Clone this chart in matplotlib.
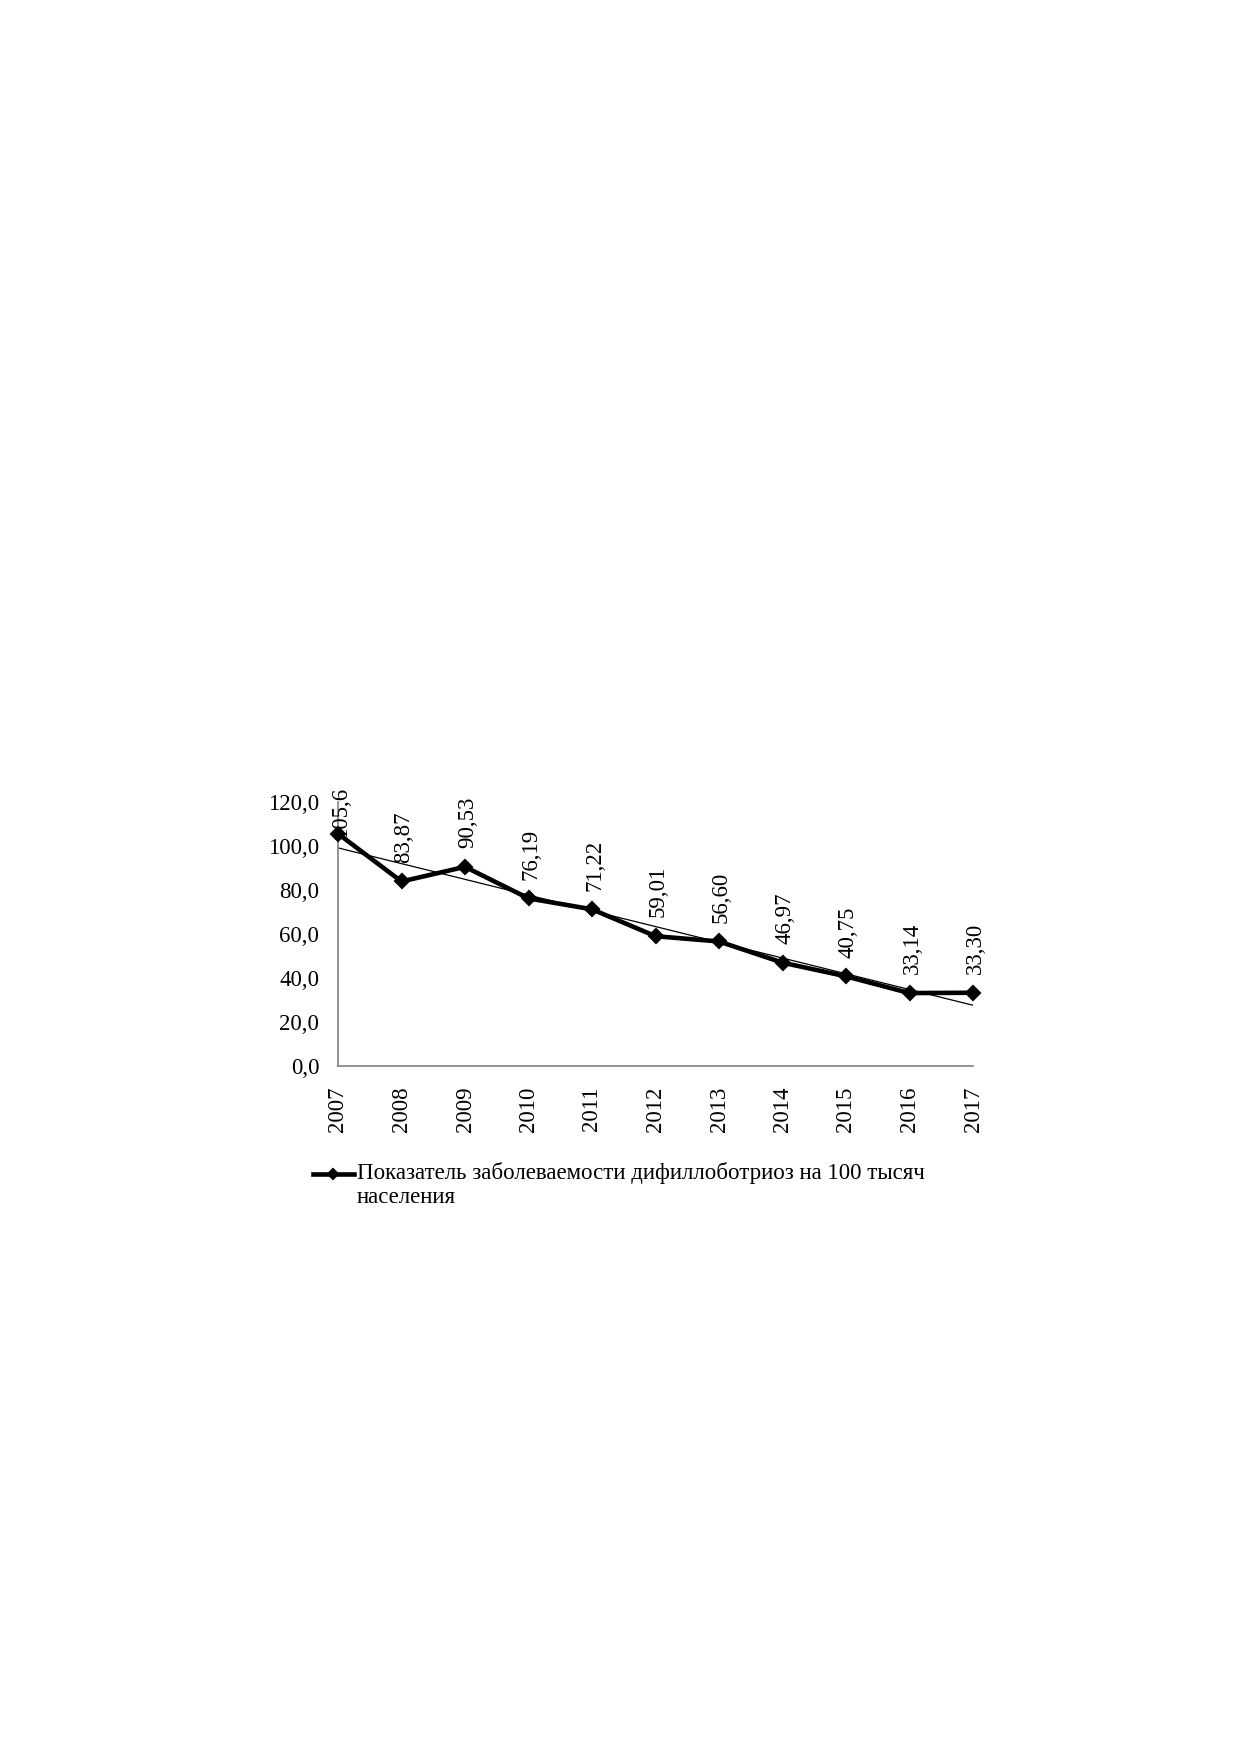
import matplotlib
matplotlib.use("Agg")
import matplotlib.pyplot as plt
from matplotlib.lines import Line2D
import numpy as np

years = ["2007", "2008", "2009", "2010", "2011", "2012", "2013", "2014", "2015", "2016", "2017"]
values = [105.6, 83.87, 90.53, 76.19, 71.22, 59.01, 56.60, 46.97, 40.75, 33.14, 33.30]
value_labels = ["105,6", "83,87", "90,53", "76,19", "71,22", "59,01", "56,60", "46,97", "40,75", "33,14", "33,30"]
y_ticks = [0, 20, 40, 60, 80, 100, 120]
y_tick_labels = ["0,0", "20,0", "40,0", "60,0", "80,0", "100,0", "120,0"]
legend_text = "Показатель заболеваемости дифиллоботриоз на 100 тысяч\nнаселения"

plt.rcParams['font.family'] = ['Liberation Serif', 'DejaVu Serif']

W, H = 1239, 1752
dpi = 150
fig = plt.figure(figsize=(W / dpi, H / dpi), dpi=dpi)
fig.patch.set_facecolor("white")

ax = fig.add_axes([338 / W, 1 - 1066 / H, (973 - 338) / W, (1066 - 802) / H])
x = np.arange(len(years))

# linear trend line
coef = np.polyfit(x, values, 1)
ax.plot(x, np.polyval(coef, x), color="black", lw=0.6, zorder=2)

ax.plot(x, values, color="black", lw=2.2, marker="D", markersize=4.6, zorder=3, clip_on=False)

annots = []
for xi, v, lab in zip(x, values, value_labels):
    a = ax.annotate(lab, (xi, v), xytext=(1.2, 9.0), textcoords="offset points",
                    rotation=90, ha="center", va="bottom", fontsize=11)
    annots.append(a)

ax.set_xlim(0, len(years) - 1)
ax.set_ylim(0, 120)
ax.set_xticks(x)
ax.set_xticklabels(years, rotation=90, fontsize=11)
ax.set_yticks(y_ticks)
ax.set_yticklabels(y_tick_labels, fontsize=11)
ax.tick_params(axis="both", length=0)
ax.tick_params(axis="y", pad=9)
ax.tick_params(axis="x", pad=10)
for s in ["top", "right"]:
    ax.spines[s].set_visible(False)
for s in ["left", "bottom"]:
    ax.spines[s].set_color("#808080")
    ax.spines[s].set_linewidth(0.8)

# keep data labels inside the chart area (as the source chart does)
fig.canvas.draw()
renderer = fig.canvas.get_renderer()
top_limit = H - 787
for a in annots:
    bb = a.get_window_extent(renderer)
    if bb.y1 > top_limit:
        dx, dy = a.xyann
        a.xyann = (dx, dy - (bb.y1 - top_limit) * 72 / dpi)

# legend drawn manually so the key aligns with the first line of text
ly = 1 - 1174 / H
fig.add_artist(Line2D([313 / W, 354 / W], [ly, ly], color="black", lw=2.2,
                      transform=fig.transFigure))
fig.add_artist(Line2D([333 / W], [ly], color="black", marker="D", markersize=3.5,
                      transform=fig.transFigure))
fig.text(357 / W, 1 - 1162 / H, legend_text, fontsize=11, ha="left", va="top",
         linespacing=1.2)

fig.savefig("out.png", dpi=dpi, facecolor="white")
